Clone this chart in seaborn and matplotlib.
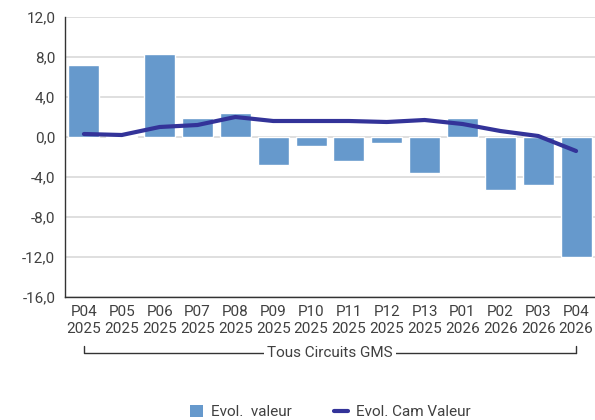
import matplotlib
matplotlib.use("Agg")
import matplotlib.pyplot as plt
import matplotlib.transforms as mtransforms
from matplotlib.lines import Line2D
from matplotlib.patches import Patch
import seaborn as sns
import numpy as np
import pandas as pd

periods = ["P04", "P05", "P06", "P07", "P08", "P09", "P10", "P11", "P12", "P13", "P01", "P02", "P03", "P04"]
years = ["2025"] * 10 + ["2026"] * 4
evol_valeur = [7.2, 0.1, 8.3, 1.9, 2.4, -2.75, -0.9, -2.4, -0.6, -3.6, 1.9, -5.3, -4.8, -12.0]
evol_cam = [0.3, 0.2, 1.0, 1.2, 2.0, 1.6, 1.6, 1.6, 1.5, 1.7, 1.3, 0.6, 0.1, -1.4]
group_label = "Tous Circuits GMS"
series_names = ["Evol.  valeur", "Evol. Cam Valeur"]
y_ticks = [12, 8, 4, 0, -4, -8, -12, -16]

sns.set_theme(style="white")
plt.rcParams["font.family"] = ["Roboto", "DejaVu Sans"]

TEXT = "#404040"
BAR = "#6699cc"
LINE = "#333399"

labels = [f"{p}\n{y}" for p, y in zip(periods, years)]
df = pd.DataFrame({"label": labels, "valeur": evol_valeur, "cam": evol_cam})
df["pos"] = np.arange(len(df))

fig = plt.figure(figsize=(5.95, 4.2), dpi=100)
ax = fig.add_axes([65 / 595, 1 - 297 / 420, (595 - 65) / 595, (297 - 17) / 420])

sns.barplot(data=df, x="label", y="valeur", color=BAR, saturation=1, width=0.82, ax=ax, zorder=2)
sns.lineplot(data=df, x="pos", y="cam", color=LINE, linewidth=3.0, ax=ax, zorder=3)

ax.set_xlim(-0.5, len(df) - 0.5)
ax.set_ylim(-16, 12)
ax.set_yticks(y_ticks)
ax.set_yticklabels([f"{t:.1f}".replace(".", ",") for t in y_ticks])
ax.set_xlabel("")
ax.set_ylabel("")
ax.grid(axis="y", color="#d9d9d9", linewidth=1.2, zorder=0)
ax.set_axisbelow(True)
for s in ["top", "right"]:
    ax.spines[s].set_visible(False)
for s in ["left", "bottom"]:
    ax.spines[s].set_color("#333333")
    ax.spines[s].set_linewidth(1.0)
ax.tick_params(axis="both", length=0, labelsize=11, colors=TEXT, pad=6)
ax.tick_params(axis="y", pad=7)
for t in ax.get_xticklabels():
    t.set_linespacing(1.25)

# group bracket
trans = mtransforms.blended_transform_factory(ax.transData, ax.transAxes)
ybr = -(353 - 297) / 280
ytop = -(346 - 297) / 280
x0, x1 = 0, len(df) - 1
ax.plot([x0, x0, x1, x1], [ytop, ybr, ybr, ybr], transform=trans, color="#333333", lw=1, clip_on=False)
ax.plot([x1, x1], [ybr, ytop], transform=trans, color="#333333", lw=1, clip_on=False)
ax.text((x0 + x1) / 2, ybr, group_label, transform=trans, ha="center", va="center",
        fontsize=11, color=TEXT, bbox=dict(facecolor="white", edgecolor="none", pad=2))

handles = [Patch(facecolor=BAR, edgecolor="none"),
           Line2D([0], [0], color=LINE, lw=3.0)]
fig.legend(handles, series_names, loc="center", bbox_to_anchor=(330 / 595, 1 - 412 / 420),
           ncol=2, frameon=False, fontsize=11, labelcolor=TEXT, handlelength=0.9,
           handleheight=0.9, columnspacing=2.8, handletextpad=0.5)

fig.savefig("out.png", dpi=100)
